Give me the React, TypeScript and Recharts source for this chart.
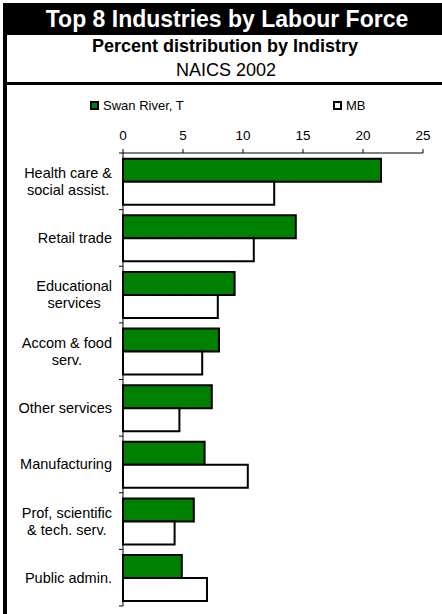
import React from 'react';
import { BarChart, Bar, XAxis, YAxis } from 'recharts';

const categories = [
  'Health care &\nsocial assist.',
  'Retail trade',
  'Educational\nservices',
  'Accom & food\nserv.',
  'Other services',
  'Manufacturing',
  'Prof, scientific\n& tech. serv.',
  'Public admin.',
];
const swanRiver = [21.5, 14.4, 9.3, 8.0, 7.4, 6.8, 5.9, 4.9];
const manitoba = [12.6, 10.9, 7.9, 6.6, 4.7, 10.4, 4.3, 7.0];
const seriesNames = ['Swan River, T', 'MB'];
const xTicks = [0, 5, 10, 15, 20, 25];

const FONT = '"Liberation Sans", Arial, sans-serif';
const GREEN = '#008000';
const LABEL_SIZE = 14.5;

const data = categories.map((name, i) => ({ name, swan: swanRiver[i], mb: manitoba[i] }));

let ctx: CanvasRenderingContext2D | null = null;
const measure = (s: string, size: number) => {
  if (!ctx) ctx = document.createElement('canvas').getContext('2d');
  if (!ctx) return s.length * size * 0.5;
  ctx.font = `${size}px "Liberation Sans", Arial, sans-serif`;
  return ctx.measureText(s).width;
};

// category labels: lines centred on each other, block right-aligned to the axis
const CategoryTick = (props: any) => {
  const { x, y, payload, index } = props;
  const lines: string[] = String(payload.value).split('\n');
  const blockW = Math.max(...lines.map((l) => measure(l, LABEL_SIZE)));
  const cx = x - blockW / 2;
  const lh = 17;
  const first = y - ((lines.length - 1) * lh) / 2 + 5;
  const half = payload.offset ?? 0;
  return (
    <g>
      {lines.map((l, i) => (
        <text key={i} x={cx} y={first + i * lh} textAnchor="middle" fontSize={LABEL_SIZE} fill="#000" fontFamily={FONT}>
          {l}
        </text>
      ))}
      <line x1={x + 7} x2={x + 11} y1={y - half} y2={y - half} stroke="#000" />
      {index === categories.length - 1 && (
        <line x1={x + 7} x2={x + 11} y1={y + half} y2={y + half} stroke="#000" />
      )}
    </g>
  );
};

const LegendItem = ({ left, color, label }: { left: number; color: string; label: string }) => (
  <div style={{ position: 'absolute', left, top: 101, height: 12 }}>
    <div style={{ position: 'absolute', left: 0, top: 0, width: 5, height: 5, background: color, border: '2px solid #000' }} />
    <div style={{ position: 'absolute', left: 13, top: -3, fontSize: 13, lineHeight: '15px', whiteSpace: 'nowrap' }}>{label}</div>
  </div>
);

export default function App() {
  return (
    <div style={{ position: 'absolute', left: 0, top: 0, width: 442, height: 614, background: '#fff', overflow: 'hidden', fontFamily: FONT, color: '#000' }}>
      <div style={{ position: 'absolute', left: 3, top: 3, width: 448, height: 32, background: '#000', color: '#fff', fontWeight: 'bold', fontSize: 23, lineHeight: '32px', textAlign: 'center' }}>
        Top 8 Industries by Labour Force
      </div>
      <div style={{ position: 'absolute', left: 3, top: 3, width: 4, height: 611, background: '#000' }} />
      <div style={{ position: 'absolute', left: 3, top: 82, width: 448, height: 3, background: '#000' }} />
      <div style={{ position: 'absolute', left: 3, top: 37, width: 444, fontSize: 18, fontWeight: 'bold', lineHeight: '18px', textAlign: 'center' }}>
        Percent distribution by Indistry
      </div>
      <div style={{ position: 'absolute', left: 3, top: 61, width: 446, fontSize: 18, lineHeight: '18px', textAlign: 'center' }}>
        NAICS 2002
      </div>
      <LegendItem left={90} color={GREEN} label={seriesNames[0]} />
      <LegendItem left={333} color="#fff" label={seriesNames[1]} />
      <div style={{ position: 'absolute', left: 0, top: 90 }}>
        <BarChart
          width={442}
          height={524}
          data={data}
          layout="vertical"
          margin={{ top: 33, right: 19, bottom: 8, left: 0 }}
          barCategoryGap="10%"
          barGap={0}
        >
          <XAxis
            type="number"
            orientation="top"
            domain={[0, 25]}
            ticks={xTicks}
            interval={0}
            height={30}
            axisLine={{ stroke: '#000' }}
            tickLine={{ stroke: '#000' }}
            tickSize={4}
            tickMargin={9}
            tick={{ fill: '#000', fontSize: 13.5, fontFamily: FONT }}
          />
          <YAxis
            type="category"
            dataKey="name"
            width={123}
            axisLine={{ stroke: '#000' }}
            tickLine={false}
            tickSize={0}
            tickMargin={11}
            interval={0}
            tick={<CategoryTick />}
          />
          <Bar dataKey="swan" name={seriesNames[0]} fill={GREEN} stroke="#000" strokeWidth={2} isAnimationActive={false} />
          <Bar dataKey="mb" name={seriesNames[1]} fill="#fff" stroke="#000" strokeWidth={2} isAnimationActive={false} />
        </BarChart>
      </div>
    </div>
  );
}
